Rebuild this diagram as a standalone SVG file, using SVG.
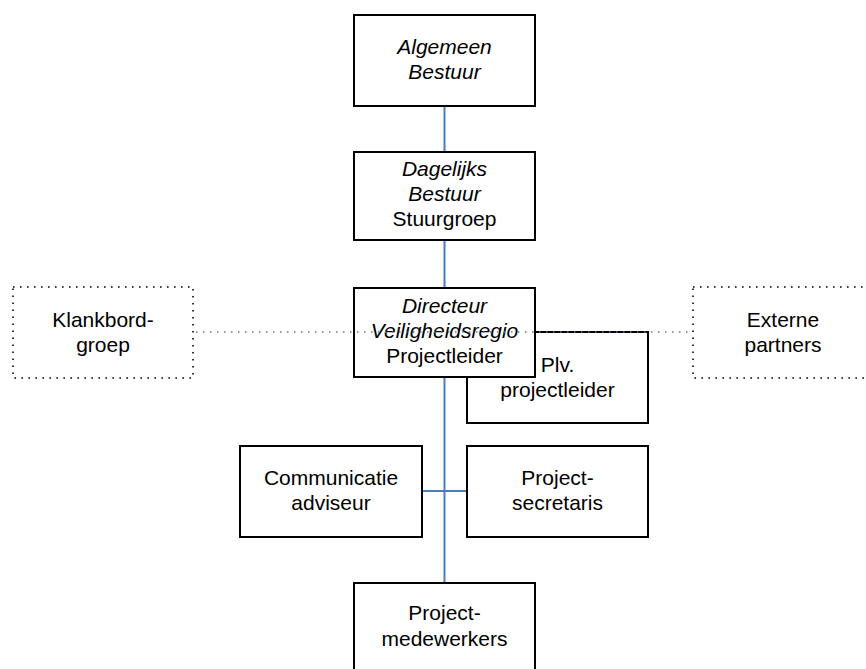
<svg xmlns="http://www.w3.org/2000/svg" width="866" height="669" viewBox="0 0 866 669">
<style>
.box{fill:#fff;stroke:#000;stroke-width:2}
.dot{fill:none;stroke:#000;stroke-width:1.6;stroke-dasharray:1.6 5.4}
.con{fill:none;stroke:#4A7EBB;stroke-width:2}
.dcon{fill:none;stroke:#4A7EBB;stroke-width:1.5;stroke-dasharray:1.5 5.5}
text{font-family:"Liberation Sans",Arial,sans-serif;font-size:21px;fill:#000;text-anchor:middle}
.i{font-style:italic}
</style>
<rect width="866" height="669" fill="#fff"/>
<g id="connectors">
<line class="con" x1="444.5" y1="106" x2="444.5" y2="152"/>
<line class="con" x1="444.5" y1="240" x2="444.5" y2="288"/>
<line class="con" x1="444.5" y1="377" x2="444.5" y2="583"/>
<line class="con" x1="422" y1="491" x2="467" y2="491"/>
</g>
<g id="algemeen-bestuur">
<rect class="box" x="354" y="15" width="181" height="91"/>
<text class="i" x="444.5" y="54">Algemeen</text>
<text class="i" x="444.5" y="79">Bestuur</text>
</g>
<g id="dagelijks-bestuur">
<rect class="box" x="354" y="152" width="181" height="88"/>
<text class="i" x="444.5" y="176">Dagelijks</text>
<text class="i" x="444.5" y="201">Bestuur</text>
<text x="444.5" y="226">Stuurgroep</text>
</g>
<g id="klankbordgroep">
<rect class="dot" x="13" y="287" width="180" height="91"/>
<text x="103" y="327">Klankbord-</text>
<text x="103" y="352">groep</text>
</g>
<g id="externe-partners">
<rect class="dot" x="693" y="287" width="180" height="91"/>
<text x="783" y="327">Externe</text>
<text x="783" y="352">partners</text>
</g>
<g id="plv-projectleider">
<rect class="box" x="467" y="332" width="181" height="91"/>
<text x="557.5" y="372">Plv.</text>
<text x="557.5" y="397">projectleider</text>
</g>
<g id="directeur">
<rect class="box" x="354" y="288" width="181" height="89"/>
<text class="i" x="444.5" y="313">Directeur</text>
<text class="i" x="444.5" y="338">Veiligheidsregio</text>
<text x="444.5" y="363">Projectleider</text>
</g>
<g id="dotted-connectors">
<line class="dcon" x1="196" y1="332" x2="693" y2="332"/>
</g>
<g id="communicatie-adviseur">
<rect class="box" x="240" y="446" width="182" height="91"/>
<text x="331" y="485">Communicatie</text>
<text x="331" y="510">adviseur</text>
</g>
<g id="project-secretaris">
<rect class="box" x="467" y="446" width="181" height="91"/>
<text x="557.5" y="485">Project-</text>
<text x="557.5" y="510">secretaris</text>
</g>
<g id="project-medewerkers">
<rect class="box" x="354" y="583" width="181" height="91"/>
<text x="444.5" y="620">Project-</text>
<text x="444.5" y="646">medewerkers</text>
</g>
</svg>
